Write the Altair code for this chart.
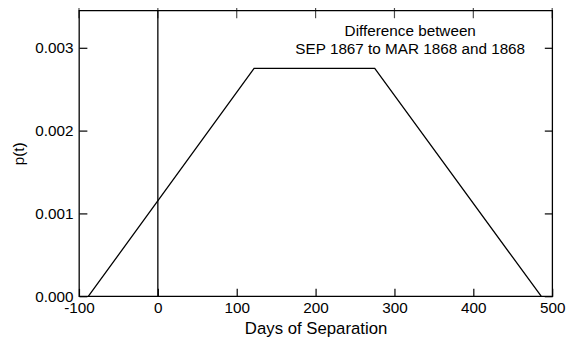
import altair as alt
import pandas as pd

# Trapezoid p(t) profile
days = [-88, 122, 275, 486]
prob = [0.0, 0.00275, 0.00275, 0.0]

rule_x = [0]

x_ticks = [-100, 0, 100, 200, 300, 400, 500]
y_ticks = [0.0, 0.001, 0.002, 0.003]

annotation = ["Difference between", "SEP 1867 to MAR 1868 and 1868"]
annotation_x = [320]

FONT = "Liberation Sans"
TICK = 8

df = pd.DataFrame({"days": days, "p": prob})
rule_df = pd.DataFrame({"days": rule_x})
text_df = pd.DataFrame({"days": annotation_x})
xtick_df = pd.DataFrame({"days": x_ticks, "top": [0.00345] * len(x_ticks)})

xscale = alt.Scale(domain=[-100, 500], nice=False, zero=False)
yscale = alt.Scale(domain=[0, 0.00345], nice=False, zero=True)

x_axis_main = alt.Axis(
    values=x_ticks, title="Days of Separation", orient="bottom", offset=-TICK,
    tickSize=TICK, labelPadding=5, domain=False, grid=False,
    labelFontSize=15.5, titleFontSize=17, labelColor="black", titleColor="black",
    tickColor="black", tickWidth=1.2, labelFont=FONT, titleFont=FONT,
    titleFontWeight="normal", titlePadding=4, labelFlush=False,
    labelExpr="datum.value + ''",
)
y_axis_main = alt.Axis(
    values=y_ticks, format=".3f", title="p(t)", orient="left", offset=-TICK,
    tickSize=TICK, labelPadding=6, domain=False, grid=False,
    labelFontSize=15.5, titleFontSize=15.5, labelColor="black", titleColor="black",
    tickColor="black", tickWidth=1.2, labelFont=FONT, titleFont=FONT,
    titleFontWeight="normal", titlePadding=8, labelFlush=False,
)
y_axis_right = alt.Axis(
    values=y_ticks, title=None, orient="right", offset=-TICK, tickSize=TICK,
    labels=False, domain=False, grid=False, tickColor="black", tickWidth=1.2,
)

line = alt.Chart(df).mark_line(color="black", strokeWidth=1.3).encode(
    x=alt.X("days:Q", scale=xscale, axis=x_axis_main),
    y=alt.Y("p:Q", scale=yscale, axis=y_axis_main),
)

rule = alt.Chart(rule_df).mark_rule(color="black", strokeWidth=1.3).encode(
    x=alt.X("days:Q", scale=xscale, axis=None),
    y=alt.value(0),
    y2=alt.value(290),
)

# inward ticks along the top edge (anchored at the top of the y domain)
top_ticks = alt.Chart(xtick_df).mark_tick(
    color="black", thickness=1.2, size=2 * TICK, orient="vertical"
).encode(
    x=alt.X("days:Q", scale=xscale, axis=None),
    y=alt.Y("top:Q", scale=yscale, axis=None),
)

mirror = alt.Chart(df).mark_point(opacity=0).encode(
    x=alt.X("days:Q", scale=xscale, axis=None),
    y=alt.Y("p:Q", scale=yscale, axis=y_axis_right),
)

text = alt.Chart(text_df).mark_text(
    font=FONT, fontSize=15.5, color="black", align="center", baseline="middle",
    lineHeight=18.5,
).encode(
    x=alt.X("days:Q", scale=xscale, axis=None),
    y=alt.value(21),
    text=alt.value(annotation),
)

chart = (
    alt.layer(line, rule, top_ticks, mirror, text)
    .resolve_axis(x="independent", y="independent")
    .properties(
        width=480, height=290,
        autosize=alt.AutoSizeParams(type="none"),
        padding={"left": 72, "top": 0, "right": 14, "bottom": 40},
        background="white",
    )
    .configure_view(stroke="black", strokeWidth=1.3)
)

chart.save("out.html", embed_options={"renderer": "svg", "actions": False})
